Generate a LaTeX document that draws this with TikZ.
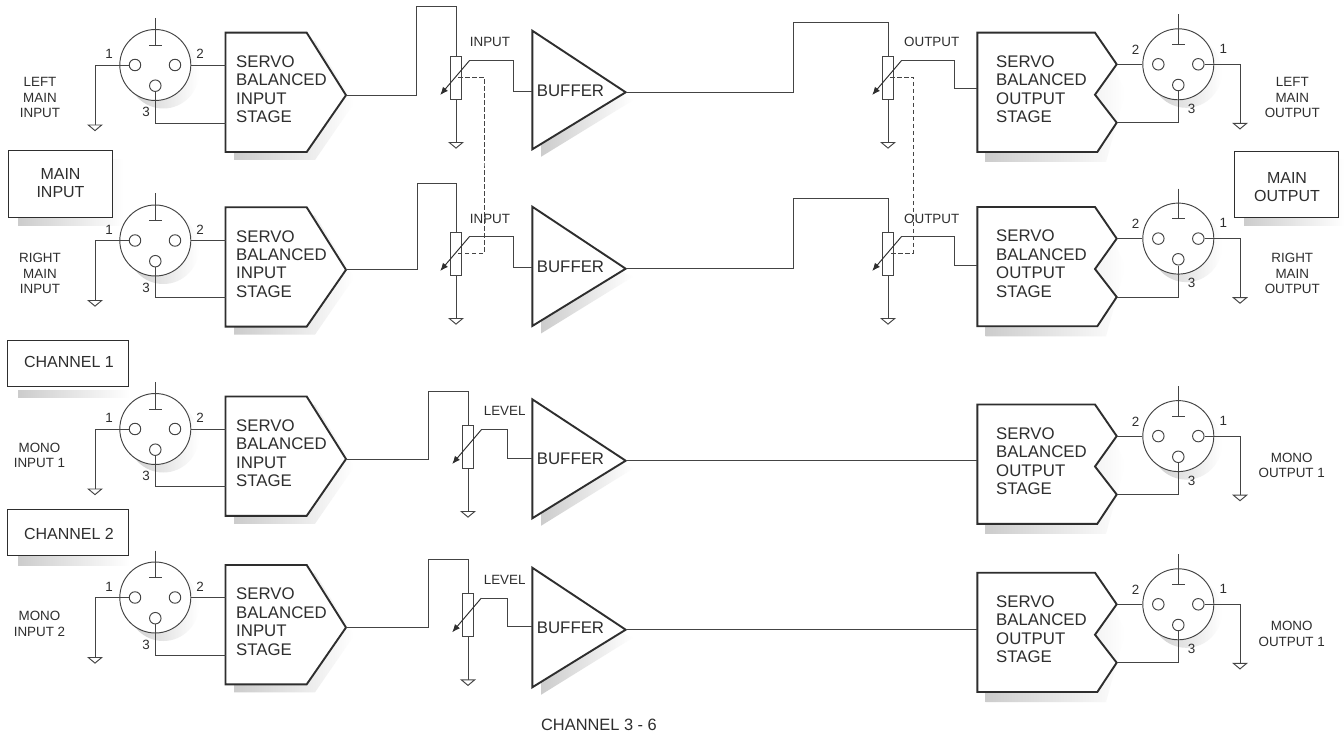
\documentclass[tikz,border=0pt]{standalone}
\usepackage{fontspec}
\setmainfont{Liberation Sans}
\usetikzlibrary{arrows.meta,calc}
\definecolor{ink}{HTML}{2E2E2E}
\definecolor{wirecol}{HTML}{444444}
\tikzset{
  wire/.style={draw=wirecol,line width=0.95pt},
  heavy/.style={draw=ink,line width=1.9pt,line join=miter,fill=white},
  thinbox/.style={draw=ink,line width=0.95pt,fill=white,inner sep=0pt},
  xlrbody/.style={circle,draw=wirecol,line width=0.95pt,fill=white,inner sep=0pt,minimum size=71pt},
  xlrpin/.style={circle,draw=wirecol,line width=0.95pt,fill=white,inner sep=0pt,minimum size=11.5pt},
  potbody/.style={rectangle,draw=wirecol,line width=0.95pt,fill=white,inner sep=0pt,minimum width=11pt,minimum height=43.3pt},
  potarrow/.style={draw=ink,line width=0.95pt,-{Latex[length=8pt,width=6.5pt]}},
  linkline/.style={draw=wirecol,line width=0.85pt,dash pattern=on 4.5pt off 2.5pt},
  softshadow/.style={left color=gray!40,right color=white,draw=none},
  stagetext/.style={text=ink,font=\fontsize{16.8}{18.4}\selectfont,align=left,anchor=west,inner sep=0pt},
  boxtext/.style={text=ink,font=\fontsize{16}{18}\selectfont,align=center,inner sep=0pt},
  smalltext/.style={text=ink,font=\fontsize{13.4}{15.4}\selectfont,align=center,inner sep=0pt},
}
% ground symbol at a named coordinate
\newcommand{\gndsym}[1]{\draw[wire,fill=white] (#1) ++(-6.7,0) -- ++(13.4,0) -- ++(-6.7,5.6) -- cycle;}
% #1 name, #2 cy
\newcommand{\xlrin}[2]{%
  \shade[softshadow] (163.3,{#2+8}) circle[radius=35.5pt];
  \node[xlrbody] (#1) at (155.3,#2) {};
  \node[xlrpin] (#1-a) at (135,#2) {};
  \node[xlrpin] (#1-b) at (175,#2) {};
  \node[xlrpin] (#1-c) at (155.3,{#2+20.7}) {};
  \coordinate (#1-s) at (155.3,{#2-47});
  \coordinate (#1-m) at (155.3,{#2-20});
  \draw[wire] (#1-s) -- (#1-m);
  \draw[wire] ([xshift=-6.3pt]#1-m) -- ([xshift=6.3pt]#1-m);
  \coordinate (#1-g) at (95,{#2+60});
  \draw[wire] (#1-a.west) -| (#1-g);
  \gndsym{#1-g}
  \node[smalltext] (#1-n1) at (109,{#2-11}) {1};
  \node[smalltext] (#1-n2) at (200,{#2-11}) {2};
  \node[smalltext] (#1-n3) at (146,{#2+47}) {3};
}
\newcommand{\xlrout}[2]{%
  \shade[softshadow] (1186.3,{#2+8}) circle[radius=35.5pt];
  \node[xlrbody] (#1) at (1178.3,#2) {};
  \node[xlrpin] (#1-a) at (1198.3,#2) {};
  \node[xlrpin] (#1-b) at (1158.3,#2) {};
  \node[xlrpin] (#1-c) at (1178.3,{#2+20.7}) {};
  \coordinate (#1-s) at (1178.3,{#2-50});
  \coordinate (#1-m) at (1178.3,{#2-20});
  \draw[wire] (#1-s) -- (#1-m);
  \draw[wire] ([xshift=-6.3pt]#1-m) -- ([xshift=6.3pt]#1-m);
  \coordinate (#1-g) at (1240,{#2+59});
  \draw[wire] (#1-a.east) -| (#1-g);
  \gndsym{#1-g}
  \node[smalltext] (#1-n2) at (1135.7,{#2-14.5}) {2};
  \node[smalltext] (#1-n1) at (1223.3,{#2-15.5}) {1};
  \node[smalltext] (#1-n3) at (1191.7,{#2+44.5}) {3};
}
% #1 name, #2 top
\newcommand{\instage}[2]{%
  \shade[softshadow] (234,{#2+8}) -- (315,{#2+8}) -- (354,{#2+70.5}) -- (315,{#2+127.3}) -- (234,{#2+127.3}) -- cycle;
  \draw[heavy] (225.5,#2) -- (306.7,#2) -- (346,{#2+62.5}) -- (306.7,{#2+119.3}) -- (225.5,{#2+119.3}) -- cycle;
  \coordinate (#1-w) at (225.5,{#2+32.3});
  \coordinate (#1-l) at (225.5,{#2+90.3});
  \coordinate (#1-o) at (346,{#2+62.5});
  \node[stagetext] (#1-t) at (236,{#2+56.7}) {SERVO\\BALANCED\\INPUT\\STAGE};
}
\newcommand{\outstage}[2]{%
  \shade[softshadow] (985.7,{#2+10}) -- (1104,{#2+10}) -- (1125,{#2+60}) -- (1106,{#2+129.3}) -- (985.7,{#2+129.3}) -- cycle;
  \draw[heavy] (977.3,#2) -- (1095,#2) -- (1116.7,{#2+31.6}) -- (1095,{#2+62}) -- (1116.7,{#2+90}) -- (1097.3,{#2+119.3}) -- (977.3,{#2+119.3}) -- cycle;
  \coordinate (#1-w) at (977.3,{#2+60});
  \coordinate (#1-u) at (1116.7,{#2+31.6});
  \coordinate (#1-l) at (1116.7,{#2+90});
  \node[stagetext] (#1-t) at (996,{#2+56.7}) {SERVO\\BALANCED\\OUTPUT\\STAGE};
}
% #1 name, #2 x, #3 top
\newcommand{\vpot}[3]{%
  \node[potbody] (#1) at (#2,{#3+21.7}) {};
  \coordinate (#1-g) at (#2,{#3+86.5});
  \coordinate (#1-p) at ({#2+13.3},{#3+4.8});
  \coordinate (#1-q) at ({#2-15.8},{#3+39});
  \draw[wire] (#1.south) -- (#1-g);
  \gndsym{#1-g}
  \draw[potarrow] (#1-p) -- (#1-q);
}
% #1 name, #2 top, #3 bottom, #4 tip y, #5 label y
\newcommand{\bufamp}[5]{%
  \shade[softshadow] (541,{#2+30}) -- (633,{#4+8}) -- (541,{#3+7.5}) -- cycle;
  \draw[heavy] (532.3,#2) -- (625.7,#4) -- (532.3,#3) -- cycle;
  \coordinate (#1-o) at (625.7,#4);
  \coordinate (#1-i) at (532.3,#5);
  \node[text=ink,font=\fontsize{16.8}{18.4}\selectfont,inner sep=0pt] (#1-t) at (570.5,#5) {BUFFER};
}
\begin{document}
\begin{tikzpicture}[x=1pt,y=-1pt]
\useasboundingbox (0,0) rectangle (1344,735);
\fill[white] (0,0) rectangle (1344,735);

% side boxes
\shade[softshadow] (18,160) rectangle (124,226);
\node[thinbox,minimum width=104.4pt,minimum height=67pt] (mainin) at (60.5,184.2) {};
\node[boxtext] (mainint) at (60.5,183) {MAIN\\INPUT};
\shade[softshadow] (1244,160) rectangle (1344,226);
\node[thinbox,minimum width=104.4pt,minimum height=66pt] (mainout) at (1286.5,184.7) {};
\node[boxtext] (mainoutt) at (1287,187) {MAIN\\OUTPUT};
\shade[softshadow] (18,390) rectangle (130,397);
\node[thinbox,minimum width=121pt,minimum height=46pt] (ch1) at (67.8,363.7) {};
\node[boxtext] (ch1t) at (69,362) {CHANNEL 1};
\shade[softshadow] (18,550) rectangle (130,565);
\node[thinbox,minimum width=121pt,minimum height=46pt] (ch2) at (67.8,532) {};
\node[boxtext] (ch2t) at (69,533.7) {CHANNEL 2};

% left side labels
\node[smalltext] (l1) at (40,97.5) {LEFT\\MAIN\\INPUT};
\node[smalltext] (l2) at (40,273.5) {RIGHT\\MAIN\\INPUT};
\node[smalltext] (l3) at (39.5,455.5) {MONO\\INPUT 1};
\node[smalltext] (l4) at (39.5,624) {MONO\\INPUT 2};
\node[smalltext] (r1) at (1292.3,97.5) {LEFT\\MAIN\\OUTPUT};
\node[smalltext] (r2) at (1292.3,273.5) {RIGHT\\MAIN\\OUTPUT};
\node[smalltext] (r3) at (1291.7,465.5) {MONO\\OUTPUT 1};
\node[smalltext] (r4) at (1291.7,634) {MONO\\OUTPUT 1};

% input connectors and stages
\instage{si1}{32.7}  \xlrin{xi1}{65}
\instage{si2}{207.3} \xlrin{xi2}{240.5}
\instage{si3}{396.5} \xlrin{xi3}{429}
\instage{si4}{565}   \xlrin{xi4}{597.5}
\foreach \n in {1,2,3,4}{
  \draw[wire] (xi\n.east) -- (xi\n.east -| si\n-w);
  \draw[wire] (xi\n-c.south) |- (si\n-l);
}

% output connectors and stages
\outstage{so1}{32.7}  \xlrout{xo1}{64.3}
\outstage{so2}{207}   \xlrout{xo2}{238.6}
\outstage{so3}{404.5} \xlrout{xo3}{436.1}
\outstage{so4}{572.7} \xlrout{xo4}{604.3}
\foreach \n in {1,2,3,4}{
  \draw[wire] (so\n-u) -- (xo\n.west);
  \draw[wire] (so\n-l) -| (xo\n-c.south);
}

% buffers
\bufamp{b1}{30.7}{149.3}{92.3}{91}
\bufamp{b2}{206.7}{326}{268.7}{267}
\bufamp{b3}{399.3}{518.3}{460.7}{459}
\bufamp{b4}{567.7}{687.3}{629.7}{627.5}

% pots
\vpot{pi1}{456}{56}
\vpot{pi2}{456}{232}
\vpot{pi3}{468}{425}
\vpot{pi4}{468}{593.3}
\vpot{po1}{888}{56}
\vpot{po2}{888}{232}

% routing coordinates
\coordinate (ji1) at (416.7,6.3);
\coordinate (ji2) at (417.7,183);
\coordinate (ji3) at (428.3,391.3);
\coordinate (ji4) at (428.3,559.7);
\coordinate (jo1) at (793.3,22.7);
\coordinate (jo2) at (793.3,198.7);
\coordinate (bi1) at (513.3,91);
\coordinate (bi2) at (513.3,267);
\coordinate (bi3) at (507,458);
\coordinate (bi4) at (507,626);
\coordinate (bo1) at (954,88.3);
\coordinate (bo2) at (954,265);
\coordinate (ob1) at (977.3,88.3);
\coordinate (ob2) at (977.3,265);

% stage to pot
\foreach \n in {1,2,3,4}{
  \draw[wire] (si\n-o) -| (ji\n) -| (pi\n.north);
  \draw[wire] (pi\n-p) -| (bi\n) -- (bi\n -| b\n-i);
}
\foreach \n in {1,2}{
  \draw[wire] (b\n-o) -| (jo\n) -| (po\n.north);
  \draw[wire] (po\n-p) -| (bo\n) -- (ob\n);
}
\draw[wire] (b3-o) -- (b3-o -| so3-w);
\draw[wire] (b4-o) -- (b4-o -| so4-w);

% ganged links
\coordinate (gi1) at (458,77.3);
\coordinate (gi2) at (458,253.3);
\coordinate (gix) at (484,165);
\coordinate (go1) at (890,77.3);
\coordinate (go2) at (890,253.3);
\coordinate (gox) at (913.3,165);
\draw[linkline] (gi1) -| (gix) |- (gi2);
\draw[linkline] (go1) -| (gox) |- (go2);

% labels
\node[smalltext] (ti1) at (490,42.3) {INPUT};
\node[smalltext] (ti2) at (490,218.7) {INPUT};
\node[smalltext] (to1) at (931.7,42.3) {OUTPUT};
\node[smalltext] (to2) at (931.7,218.7) {OUTPUT};
\node[smalltext] (tl3) at (504.7,411.3) {LEVEL};
\node[smalltext] (tl4) at (504.7,580) {LEVEL};
\node[text=ink,font=\fontsize{16.4}{18}\selectfont,inner sep=0pt] (cap) at (599,725) {CHANNEL 3 - 6};
\end{tikzpicture}
\end{document}
